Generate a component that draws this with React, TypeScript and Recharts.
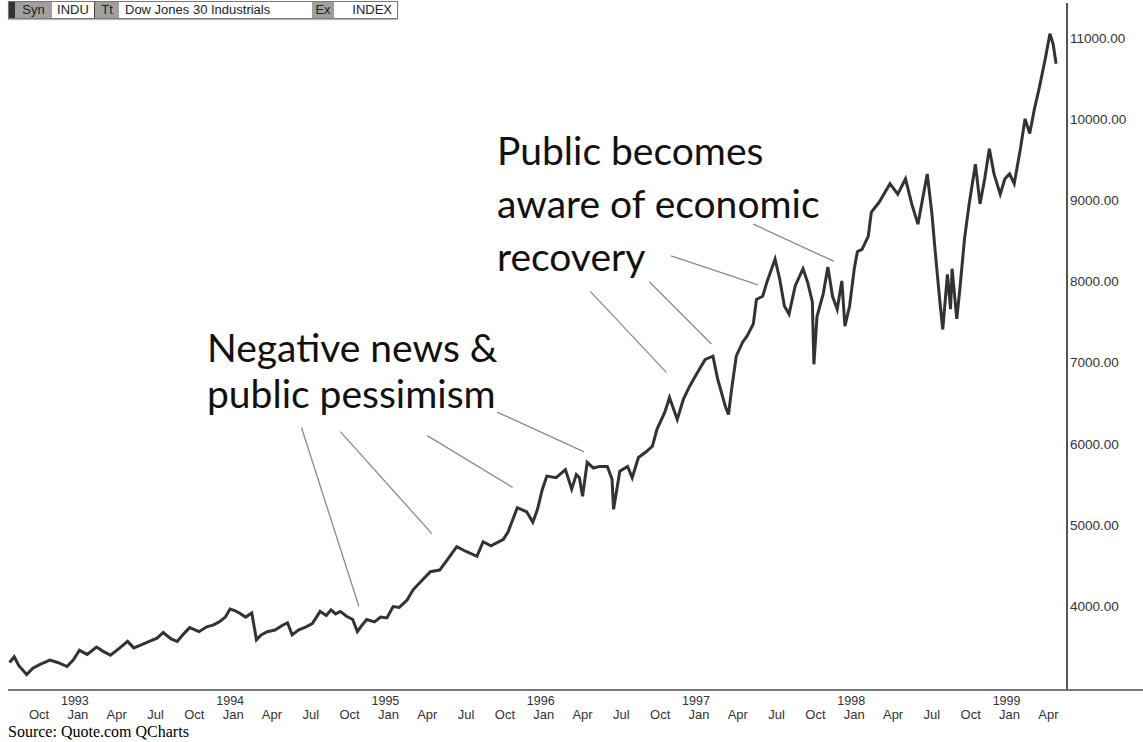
import React from 'react';
import {
  LineChart,
  Line,
  XAxis,
  YAxis,
  ReferenceLine,
} from 'recharts';

const dates = [
  1992.56, 1992.59, 1992.62, 1992.67, 1992.71, 1992.76, 1992.82, 1992.87, 1992.93, 1992.97,
  1993.01, 1993.06, 1993.12, 1993.16, 1993.21, 1993.27, 1993.32, 1993.36, 1993.4, 1993.46,
  1993.51, 1993.55, 1993.6, 1993.64, 1993.68, 1993.72, 1993.78, 1993.83, 1993.87, 1993.91,
  1993.95, 1993.98, 1994.01, 1994.04, 1994.08, 1994.12, 1994.15, 1994.18, 1994.22, 1994.27,
  1994.31, 1994.35, 1994.38, 1994.42, 1994.47, 1994.51, 1994.56, 1994.6, 1994.63, 1994.66,
  1994.69, 1994.73, 1994.77, 1994.8, 1994.83, 1994.86, 1994.91, 1994.95, 1994.99, 1995.03,
  1995.07, 1995.12, 1995.16, 1995.22, 1995.27, 1995.33, 1995.38, 1995.44, 1995.5, 1995.57,
  1995.61, 1995.66, 1995.7, 1995.74, 1995.77, 1995.83, 1995.89, 1995.93, 1995.96, 1995.99,
  1996.02, 1996.08, 1996.14, 1996.18, 1996.21, 1996.23, 1996.25, 1996.28, 1996.32, 1996.36,
  1996.41, 1996.44, 1996.45, 1996.49, 1996.54, 1996.57, 1996.61, 1996.66, 1996.7, 1996.73,
  1996.78, 1996.81, 1996.86, 1996.9, 1996.94, 1996.99, 1997.04, 1997.09, 1997.12, 1997.17,
  1997.19, 1997.21, 1997.24, 1997.28, 1997.31, 1997.35, 1997.37, 1997.41, 1997.44, 1997.49,
  1997.52, 1997.55, 1997.58, 1997.62, 1997.67, 1997.7, 1997.73, 1997.74, 1997.76, 1997.8,
  1997.83, 1997.86, 1997.89, 1997.92, 1997.94, 1997.97, 1998.0, 1998.02, 1998.05, 1998.09,
  1998.11, 1998.16, 1998.23, 1998.28, 1998.33, 1998.37, 1998.41, 1998.44, 1998.47, 1998.5,
  1998.52, 1998.55, 1998.57, 1998.6, 1998.62, 1998.63, 1998.66, 1998.68, 1998.71, 1998.74,
  1998.78, 1998.81, 1998.84, 1998.87, 1998.9, 1998.94, 1998.97, 1999.0, 1999.03, 1999.07,
  1999.1, 1999.13, 1999.16, 1999.19, 1999.23, 1999.26, 1999.28, 1999.3,
];

const closes = [
  3300, 3370, 3260, 3150, 3230, 3280, 3330, 3300, 3250, 3330,
  3450, 3400, 3490, 3440, 3390, 3480, 3560, 3480, 3510, 3560,
  3600, 3670, 3590, 3560, 3650, 3730, 3680, 3740, 3760, 3800,
  3860, 3960, 3940, 3910, 3860, 3910, 3580, 3640, 3680, 3700,
  3750, 3790, 3640, 3700, 3740, 3780, 3930, 3880, 3950, 3900,
  3930, 3870, 3830, 3680, 3760, 3830, 3800, 3860, 3850, 3990,
  3980, 4070, 4200, 4320, 4420, 4440, 4570, 4730, 4670, 4610,
  4790, 4740, 4780, 4820, 4910, 5210, 5160, 5030, 5190, 5430,
  5600, 5580, 5680, 5440, 5620, 5580, 5350, 5770, 5700, 5720,
  5720, 5560, 5190, 5660, 5720, 5580, 5830, 5900, 5970, 6180,
  6390, 6570, 6300, 6550, 6710, 6880, 7040, 7080, 6800, 6460,
  6360, 6670, 7080, 7250, 7330, 7480, 7780, 7820, 8010, 8280,
  8030, 7700, 7600, 7950, 8160, 7990, 7750, 6980, 7570, 7850,
  8180, 7820, 7660, 8010, 7450, 7700, 8160, 8370, 8400, 8560,
  8860, 8980, 9210, 9080, 9270, 8960, 8710, 9020, 9330, 8840,
  8400, 7780, 7410, 8090, 7660, 8160, 7540, 7910, 8530, 8960,
  9450, 8960, 9270, 9640, 9330, 9080, 9270, 9330, 9210, 9640,
  10010, 9830, 10130, 10380, 10750, 11060, 10940, 10690,
];

const quarterTicks = [
  1992.75, 1993, 1993.25, 1993.5, 1993.75, 1994, 1994.25, 1994.5, 1994.75,
  1995, 1995.25, 1995.5, 1995.75, 1996, 1996.25, 1996.5, 1996.75, 1997,
  1997.25, 1997.5, 1997.75, 1998, 1998.25, 1998.5, 1998.75, 1999, 1999.25,
];
const monthNames = ['Jan', 'Apr', 'Jul', 'Oct'];
const priceTicks = [4000, 5000, 6000, 7000, 8000, 9000, 10000, 11000];

// pointer lines: [fromDate, fromValue, toDate, toValue]
const pointers = [
  [1994.44, 6200, 1994.81, 3990],
  [1994.69, 6150, 1995.28, 4890],
  [1995.25, 6100, 1995.8, 5460],
  [1995.7, 6390, 1996.26, 5900],
  [1996.3, 7880, 1996.79, 6880],
  [1996.68, 8000, 1997.08, 7230],
  [1996.82, 8320, 1997.38, 7960],
  [1997.35, 8710, 1997.87, 8250],
];

const data = dates.map((t, i) => ({ t, v: closes[i] }));

const sans = '"Liberation Sans", Arial, sans-serif';

function QuarterTick(props: any) {
  const { x, y, payload } = props;
  const v = payload.value as number;
  const q = Math.round((v - Math.floor(v)) * 4) % 4;
  return (
    <g>
      {q === 0 && (
        <text x={x - 3} y={y + 15} textAnchor="middle" fontSize={12.5} fill="#333" fontFamily={sans}>
          {Math.floor(v + 0.01)}
        </text>
      )}
      <text x={x} y={y + 29} textAnchor="middle" fontSize={13} fill="#333" fontFamily={sans}>
        {monthNames[q]}
      </text>
    </g>
  );
}

function Header() {
  const cell = (w: number, bg: string, align: 'center' | 'left' | 'right' = 'center') => ({
    width: w,
    background: bg,
    textAlign: align,
    boxSizing: 'border-box' as const,
    padding: align === 'left' ? '0 0 0 6px' : align === 'right' ? '0 5px 0 0' : 0,
  });
  return (
    <div
      style={{
        position: 'absolute',
        left: 8,
        top: 1,
        height: 16,
        display: 'flex',
        border: '1px solid #777',
        boxShadow: '0 1px 1px #bbb',
        fontFamily: sans,
        fontSize: 13,
        lineHeight: '16px',
        color: '#222',
        background: '#fff',
        whiteSpace: 'nowrap',
      }}
    >
      <span style={cell(6, '#333')} />
      <span style={cell(37, '#a0a0a0')}>Syn</span>
      <span style={{ ...cell(43, '#fff'), borderRight: '1px solid #444' }}>INDU</span>
      <span style={cell(24, '#a0a0a0')}>Tt</span>
      <span style={cell(193, '#fff', 'left')}>Dow Jones 30 Industrials</span>
      <span style={cell(22, '#a0a0a0')}>Ex</span>
      <span style={cell(63, '#fff', 'right')}>INDEX</span>
    </div>
  );
}

export default function App() {
  return (
    <div style={{ position: 'absolute', left: 0, top: 0, width: 1143, height: 742, background: '#fff' }}>
      <LineChart width={1143} height={722} data={data} margin={{ top: 3, right: 0, bottom: 0, left: 8 }}>
        <XAxis
          dataKey="t"
          type="number"
          domain={[1992.55, 1999.37]}
          ticks={quarterTicks}
          interval={0}
          tick={<QuarterTick />}
          tickLine={false}
          tickSize={0}
          tickMargin={0}
          height={32}
          axisLine={{ stroke: '#777', strokeWidth: 2 }}
        />
        <YAxis
          orientation="right"
          type="number"
          domain={[2960, 11440]}
          ticks={priceTicks}
          width={76}
          tickLine={false}
          tickSize={0}
          tickMargin={3}
          tickFormatter={(v: number) => v.toFixed(2)}
          tick={{ fill: '#333', fontSize: 13.5, fontFamily: sans }}
          axisLine={{ stroke: '#555', strokeWidth: 2 }}
        />
        {pointers.map((p, i) => (
          <ReferenceLine
            key={i}
            segment={[
              { x: p[0], y: p[1] },
              { x: p[2], y: p[3] },
            ]}
            stroke="#8a8a8a"
            strokeWidth={1.3}
            ifOverflow="visible"
          />
        ))}
        <Line
          type="linear"
          dataKey="v"
          stroke="#333"
          strokeWidth={3}
          dot={false}
          isAnimationActive={false}
        />
      </LineChart>
      <div style={{ position: 'absolute', left: 1067, top: 689, width: 76, height: 2, background: '#777' }} />
      <Header />
      <svg
        width={1143}
        height={742}
        style={{ position: 'absolute', left: 0, top: 0, pointerEvents: 'none' }}
        fontFamily='Lato, "Noto Sans", sans-serif'
        fontSize={39}
        fill="#111"
      >
        <text x={207} y={362}>Negative news &amp;</text>
        <text x={207} y={408}>public pessimism</text>
        <text x={497} y={165}>Public becomes</text>
        <text x={497} y={218}>aware of economic</text>
        <text x={497} y={271}>recovery</text>
      </svg>
      <div
        style={{
          position: 'absolute',
          left: 8,
          top: 723,
          fontFamily: '"Liberation Serif", "Times New Roman", serif',
          fontSize: 16,
          lineHeight: '18px',
          color: '#000',
        }}
      >
        Source: Quote.com QCharts
      </div>
    </div>
  );
}
